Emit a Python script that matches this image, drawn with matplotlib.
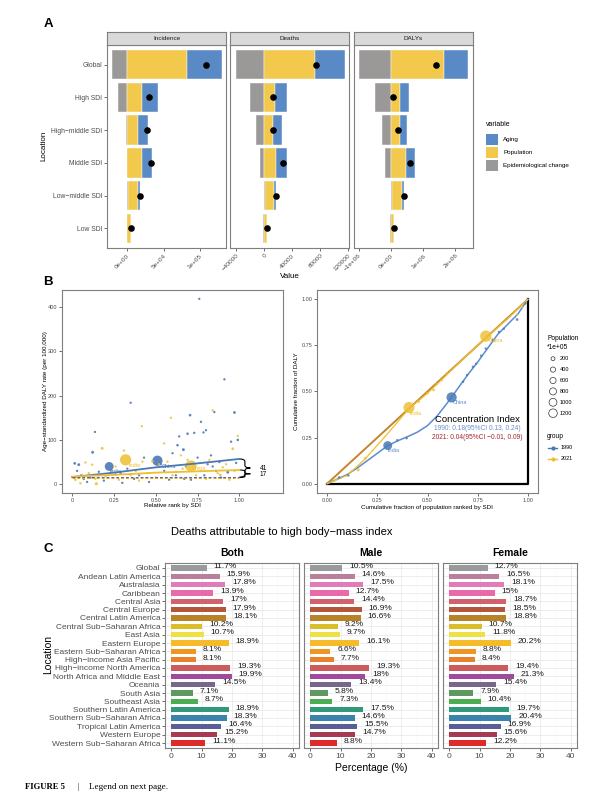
import matplotlib
matplotlib.use("Agg")
import matplotlib.pyplot as plt
from matplotlib.path import Path
from matplotlib.patches import PathPatch, Rectangle

plt.rcParams['font.family'] = ['Liberation Sans', 'DejaVu Sans']

# ---------------- data ----------------
# panel A : decomposition of change (epidemiological change, population, aging)
a_locs = ["Global", "High SDI", "High−middle SDI", "Middle SDI", "Low−middle SDI", "Low SDI"]
a_measures = ["Incidence", "Deaths", "DALYs"]
inc_epi = [-21e3, -12.5e3, -1.8e3, -0.6e3, 1.2e3, -0.2e3]
inc_pop = [83e3, 20.8e3, 15.3e3, 20e3, 13.5e3, 4.6e3]
inc_aging = [47e3, 22e3, 13.5e3, 14e3, 2.8e3, 0.3e3]
dth_epi = [-40e3, -20.4e3, -11.9e3, -6.2e3, 1.0e3, -0.9e3]
dth_pop = [72.4e3, 15.7e3, 12.9e3, 17.6e3, 13.8e3, 4.6e3]
dth_aging = [42.3e3, 17.6e3, 12.3e3, 15.7e3, 2.8e3, 0.2e3]
daly_epi = [-0.97e6, -0.49e6, -0.28e6, -0.17e6, 0.04e6, -0.01e6]
daly_pop = [1.64e6, 0.29e6, 0.29e6, 0.47e6, 0.31e6, 0.10e6]
daly_aging = [0.74e6, 0.27e6, 0.22e6, 0.29e6, 0.07e6, 0.01e6]
inc_ticks = [0, 5e4, 1e5]
inc_ticklabels = ["0e+00", "5e+04", "1e+05"]
dth_ticks = [-40000, 0, 40000, 80000, 120000]
dth_ticklabels = ["−40000", "0", "40000", "80000", "120000"]
daly_ticks = [-1e6, 0, 1e6, 2e6]
daly_ticklabels = ["−1e+06", "0e+00", "1e+06", "2e+06"]

# panel B left : age-standardized DALY rate vs relative SDI rank
b90_x = [0.016, 0.04, 0.055, 0.07, 0.09, 0.123, 0.137, 0.16, 0.19, 0.222, 0.26, 0.30, 0.33, 0.35,
         0.37, 0.40, 0.43, 0.46, 0.51, 0.55, 0.58, 0.60, 0.62, 0.63, 0.64, 0.665, 0.68, 0.69, 0.705,
         0.71, 0.73, 0.75, 0.76, 0.77, 0.785, 0.80, 0.81, 0.83, 0.85, 0.86, 0.88, 0.91, 0.93, 0.95,
         0.97, 0.98, 0.99, 0.03, 0.11, 0.29, 0.53, 0.67, 0.79, 0.84, 0.89]
b90_y = [47, 44, 20, 12, 5, 72, 118, 28, 8, 40, 22, 3, 35, 184,
         12, 20, 60, 5, 53, 30, 10, 70, 20, 88, 108, 78, 40, 114, 156,
         10, 116, 60, 419, 141, 117, 122, 45, 65, 163, 30, 50, 237, 27, 96,
         162, 48, 100, 30, 15, 25, 45, 12, 20, 40, 15]
b90_pop = [30, 40, 10, 8, 6, 40, 5, 8, 6, 850, 10, 8, 6, 5,
           10, 6, 4, 6, 1150, 8, 6, 5, 6, 20, 6, 40, 8, 20, 25,
           10, 8, 6, 5, 8, 6, 8, 8, 6, 5, 10, 6, 8, 40, 10,
           35, 8, 20, 8, 10, 8, 6, 10, 8, 6, 10]
b21_x = [0.02, 0.05, 0.08, 0.10, 0.12, 0.145, 0.18, 0.20, 0.24, 0.28, 0.31, 0.32, 0.35, 0.40,
         0.417, 0.42, 0.45, 0.48, 0.50, 0.52, 0.55, 0.57, 0.59, 0.62, 0.65, 0.66, 0.71, 0.74, 0.77,
         0.80, 0.82, 0.84, 0.87, 0.885, 0.90, 0.94, 0.96, 0.97, 0.99, 0.06, 0.14, 0.26, 0.38,
         0.6, 0.69, 0.92]
b21_y = [10, 2, 49, 25, 44, 1, 81, 18, 30, 10, 76, 55, 20, 8,
         131, 51, 25, 52, 15, 45, 92, 51, 150, 28, 65, 35, 41, 20, 30,
         12, 55, 167, 25, 21, 38, 10, 80, 30, 109, 20, 12, 40, 30, 20, 55, 45]
b21_pop = [20, 15, 10, 8, 10, 60, 40, 8, 6, 8, 6, 1400, 10, 6,
           5, 10, 6, 30, 8, 8, 10, 10, 6, 8, 6, 10, 1420, 8, 10,
           8, 6, 6, 10, 40, 8, 10, 30, 10, 8, 10, 8, 6, 8, 10, 6, 8]
fit_x = [0, 0.25, 0.5, 0.75, 1.0]
fit90_y = [16, 26, 38, 47, 57]
fit21_y = [17, 21, 26, 29, 32]
base90, base21 = 16, 15
gap90, gap21 = 41, 17

# panel B right : concentration curves
c90_x = [0.06, 0.106, 0.302, 0.35, 0.396, 0.62, 0.677, 0.697, 0.726, 0.742, 0.767, 0.79, 0.824,
         0.856, 0.88, 0.946, 0.987]
c90_y = [0.034, 0.045, 0.207, 0.236, 0.247, 0.468, 0.553, 0.589, 0.634, 0.65, 0.694, 0.733, 0.778,
         0.823, 0.84, 0.89, 0.977]
c90_pop = [20, 15, 850, 10, 15, 1150, 15, 10, 12, 10, 10, 10, 8, 8, 8, 30, 8]
c21_x = [0.04, 0.12, 0.155, 0.19, 0.408, 0.457, 0.498, 0.53, 0.546, 0.571, 0.595, 0.79, 0.832,
         0.865, 0.946, 0.97]
c21_y = [0.02, 0.067, 0.076, 0.139, 0.413, 0.445, 0.49, 0.508, 0.539, 0.562, 0.598, 0.80, 0.773,
         0.863, 0.917, 0.958]
c21_pop = [20, 15, 60, 40, 1400, 20, 15, 30, 15, 12, 10, 1420, 10, 10, 10, 8]
curve90_x = [0, 0.05, 0.1, 0.15, 0.2, 0.25, 0.3, 0.35, 0.4, 0.45, 0.5, 0.55, 0.6, 0.65, 0.7,
             0.75, 0.8, 0.85, 0.9, 0.95, 1.0]
curve90_y = [0, 0.025, 0.05, 0.085, 0.125, 0.165, 0.205, 0.232, 0.255, 0.28, 0.315, 0.37, 0.44,
             0.515, 0.59, 0.66, 0.735, 0.81, 0.865, 0.92, 1.0]
curve21_x = [0, 0.1, 0.19, 0.3, 0.41, 0.5, 0.6, 0.7, 0.8, 0.9, 1.0]
curve21_y = [0, 0.045, 0.135, 0.27, 0.41, 0.49, 0.595, 0.7, 0.8, 0.895, 1.0]
pop_legend = [200, 400, 600, 800, 1000, 1200]

# panel C : deaths attributable to high BMI (%)
c_locs = ["Global", "Andean Latin America", "Australasia", "Caribbean", "Central Asia",
          "Central Europe", "Central Latin America", "Central Sub−Saharan Africa", "East Asia",
          "Eastern Europe", "Eastern Sub−Saharan Africa", "High−income Asia Pacific",
          "High−income North America", "North Africa and Middle East", "Oceania", "South Asia",
          "Southeast Asia", "Southern Latin America", "Southern Sub−Saharan Africa",
          "Tropical Latin America", "Western Europe", "Western Sub−Saharan Africa"]
both_pct = [11.7, 15.9, 17.8, 13.9, 17, 17.9, 18.1, 10.2, 10.7, 18.9, 8.1, 8.1, 19.3, 19.9,
            14.5, 7.1, 8.7, 18.9, 18.3, 16.4, 15.2, 11.1]
male_pct = [10.5, 14.6, 17.5, 12.7, 14.4, 16.9, 16.6, 9.2, 9.7, 16.1, 6.6, 7.7, 19.3, 18,
            13.4, 5.8, 7.3, 17.5, 14.6, 15.5, 14.7, 8.8]
female_pct = [12.7, 16.5, 18.1, 15, 18.7, 18.5, 18.8, 10.7, 11.8, 20.2, 8.8, 8.4, 19.4, 21.3,
              15.4, 7.9, 10.4, 19.7, 20.4, 16.9, 15.6, 12.2]
c_colors = ["#9a9a9a", "#b8809a", "#e07cb8", "#e96aa8", "#d0626e", "#b3563a", "#b88228",
            "#d9bd2a", "#efe043", "#f5bb2b", "#ef9522", "#e8812b", "#cc5b5b", "#a04a9e",
            "#786788", "#5f9960", "#4cae52", "#2f9a7b", "#3984a8", "#5a5e96", "#a63a52",
            "#dd2a2a"]

# ---------------- figure ----------------
W, H = 615, 801
fig = plt.figure(figsize=(6.15, 8.01), dpi=100)


def box(l, t, r, b):
    return [l / W, 1 - b / H, (r - l) / W, (b - t) / H]


def frame(ax, color="#7f7f7f", lw=0.8):
    for s in ax.spines.values():
        s.set_color(color)
        s.set_linewidth(lw)


def psize(p):
    return p * 0.045 + 2.5


TXT = "#4d4d4d"
col_aging, col_pop, col_epi = "#5a8ac6", "#f2c94c", "#9b9898"
blue, yellow = "#4a78b6", "#eebf30"

# ---- panel A ----
a_xlim = [(-27.8e3, 136e3), (-48.5e3, 121e3), (-1.14e6, 2.55e6)]
a_data = [(inc_epi, inc_pop, inc_aging), (dth_epi, dth_pop, dth_aging),
          (daly_epi, daly_pop, daly_aging)]
a_ticks = [(inc_ticks, inc_ticklabels), (dth_ticks, dth_ticklabels), (daly_ticks, daly_ticklabels)]
a_left = [107, 230, 354]
for k, meas in enumerate(a_measures):
    l = a_left[k]
    ax = fig.add_axes(box(l, 45, l + 119, 248))
    st = fig.add_axes(box(l, 32, l + 119, 45))
    st.set_facecolor("#d9d9d9")
    st.set_xticks([]); st.set_yticks([])
    frame(st, "#7f7f7f", 0.8)
    st.text(0.5, 0.5, meas, ha="center", va="center", fontsize=4.6, color="#1a1a1a",
            transform=st.transAxes)
    epi, pop, aging = a_data[k]
    for i in range(len(a_locs)):
        pos, neg = 0.0, 0.0
        for v, c in [(epi[i], col_epi), (pop[i], col_pop), (aging[i], col_aging)]:
            if v >= 0:
                ax.barh(i, v, left=pos, height=0.9, color=c, edgecolor="white", linewidth=0.3)
                pos += v
            else:
                ax.barh(i, v, left=neg, height=0.9, color=c, edgecolor="white", linewidth=0.3)
                neg += v
        ax.scatter(epi[i] + pop[i] + aging[i], i, s=14, color="black", zorder=5)
    ax.set_xlim(*a_xlim[k])
    ax.set_ylim(5.6, -0.6)
    ax.set_yticks(range(len(a_locs)))
    ax.set_xticks(a_ticks[k][0])
    ax.set_xticklabels(a_ticks[k][1], fontsize=4.6, color=TXT, rotation=45, ha="right",
                       rotation_mode="anchor")
    ax.tick_params(length=2, width=0.5, color="#333333", pad=1.5)
    if k == 0:
        ax.set_yticklabels(a_locs, fontsize=4.9, color=TXT)
    else:
        ax.set_yticklabels([])
        ax.tick_params(axis="y", length=0)
    frame(ax)

# ---- panel B left ----
axl = fig.add_axes(box(62, 290, 283, 493))
axl.scatter(b90_x, b90_y, s=[psize(p) for p in b90_pop], color=blue, alpha=0.9,
            linewidths=0, zorder=3)
axl.scatter(b21_x, b21_y, s=[psize(p) for p in b21_pop], color=yellow, alpha=0.85,
            linewidths=0, zorder=3)
axl.plot(fit_x, fit90_y, color=blue, lw=1.3, zorder=4)
axl.plot(fit_x, fit21_y, color=yellow, lw=1.3, zorder=4)
axl.plot([0, 1], [base90, base90], color="#5b5ea6", lw=0.7, ls=(0, (3, 2)), zorder=4)
axl.plot([0, 1], [base21, base21], color="#d9a92a", lw=0.7, ls=(0, (3, 2)), zorder=4)


def brace(ax, x0, y0, y1, w, color="black"):
    ym = (y0 + y1) / 2
    d = (y1 - y0) * 0.15
    xm = x0 + w / 2
    verts = [(x0, y1), (xm, y1), (xm, y1 - d), (xm, ym + d), (xm, ym), (x0 + w, ym),
             (xm, ym), (xm, ym - d), (xm, y0 + d), (xm, y0), (x0, y0)]
    codes = [Path.MOVETO, Path.CURVE3, Path.CURVE3, Path.LINETO, Path.CURVE3, Path.CURVE3,
             Path.CURVE3, Path.CURVE3, Path.LINETO, Path.CURVE3, Path.CURVE3]
    ax.add_patch(PathPatch(Path(verts, codes), fill=False, edgecolor=color, lw=0.8))


brace(axl, 1.0, base90, fit90_y[-1], 0.065)
brace(axl, 1.0, base21, fit21_y[-1], 0.065)
axl.text(1.12, (base90 + fit90_y[-1]) / 2, str(gap90), fontsize=4.8, va="center", ha="left")
axl.text(1.12, (base21 + fit21_y[-1]) / 2 - 2, str(gap21), fontsize=4.8, va="center", ha="left")
axl.text(0.26, 29, "India", color=blue, fontsize=4, ha="center", va="center", zorder=5)
axl.text(0.58, 41, "China", color=blue, fontsize=4, ha="center", va="center", zorder=5)
axl.text(0.375, 42, "India", color=yellow, fontsize=4, ha="center", va="center", zorder=5)
axl.text(0.76, 36, "China", color=yellow, fontsize=4, ha="center", va="center", zorder=5)
axl.set_xlim(-0.06, 1.26)
axl.set_ylim(-20, 439)
axl.set_xticks([0, 0.25, 0.5, 0.75, 1.0])
axl.set_xticklabels(["0", "0.25", "0.50", "0.75", "1.00"], fontsize=4, color=TXT)
axl.set_yticks([0, 100, 200, 300, 400])
axl.set_yticklabels(["0", "100", "200", "300", "400"], fontsize=4, color=TXT)
axl.tick_params(length=2, width=0.5, color="#333333", pad=1.5)
frame(axl)

# ---- panel B right ----
axr = fig.add_axes(box(317, 290, 538, 493))
axr.plot([0, 1], [0, 1], color="#c4852f", lw=1.4, zorder=2)
axr.plot([0, 1, 1], [0, 0, 1], color="black", lw=1.6, zorder=2)
axr.plot(curve90_x, curve90_y, color="#5b8bd0", lw=1.1, zorder=3)
axr.plot(curve21_x, curve21_y, color=yellow, lw=0.9, zorder=3)
axr.scatter(c90_x, c90_y, s=[psize(p) for p in c90_pop], color=blue, alpha=0.85,
            linewidths=0, zorder=4)
axr.scatter(c21_x, c21_y, s=[psize(p) for p in c21_pop], color=yellow, alpha=0.8,
            linewidths=0, zorder=4)
axr.text(0.33, 0.18, "India", color="#5b8bd0", fontsize=4, ha="center", va="center")
axr.text(0.66, 0.44, "China", color="#5b8bd0", fontsize=4, ha="center", va="center")
axr.text(0.44, 0.38, "India", color=yellow, fontsize=4, ha="center", va="center")
axr.text(0.84, 0.775, "China", color=yellow, fontsize=4, ha="center", va="center")
axr.text(0.75, 0.347, "Concentration Index", fontsize=6.8, ha="center", va="center")
axr.text(0.75, 0.30, "1990: 0.18(95%CI 0.13, 0.24)", fontsize=4.8, color="#6a8fd0",
         ha="center", va="center")
axr.text(0.75, 0.25, "2021: 0.04(95%CI −0.01, 0.09)", fontsize=4.8, color="#a3262b",
         ha="center", va="center")
axr.set_xlim(-0.05, 1.05)
axr.set_ylim(-0.05, 1.05)
tk = [0, 0.25, 0.5, 0.75, 1.0]
tkl = ["0.00", "0.25", "0.50", "0.75", "1.00"]
axr.set_xticks(tk); axr.set_xticklabels(tkl, fontsize=4, color=TXT)
axr.set_yticks(tk); axr.set_yticklabels(tkl, fontsize=4, color=TXT)
axr.tick_params(length=2, width=0.5, color="#333333", pad=1.5)
frame(axr)

# ---- panel C ----
c_left = [(165, 299), (304, 438), (443, 577)]
c_titles = ["Both", "Male", "Female"]
c_vals = [both_pct, male_pct, female_pct]
for k in range(3):
    l, r = c_left[k]
    ax = fig.add_axes(box(l, 563, r, 748))
    ax.set_axisbelow(True)
    vals = c_vals[k]
    ax.barh(range(len(c_locs)), vals, height=0.65, color=c_colors)
    for i, v in enumerate(vals):
        ax.text(v + 2.3, i - 0.2, f"{v:g}%", fontsize=6, ha="left", va="center",
                color="#1a1a1a")
    ax.set_xlim(-2, 42)
    ax.set_ylim(21.6, -0.6)
    ax.set_xticks([0, 10, 20, 30, 40])
    ax.set_xticks([5, 15, 25, 35], minor=True)
    ax.set_xticklabels(["0", "10", "20", "30", "40"], fontsize=6, color=TXT)
    ax.set_yticks(range(len(c_locs)))
    ax.grid(True, which="major", color="#e6e6e6", lw=0.5)
    ax.grid(True, which="minor", axis="x", color="#f2f2f2", lw=0.3)
    ax.tick_params(which="major", length=2, width=0.5, color="#333333", pad=1.5)
    ax.tick_params(which="minor", length=0)
    if k == 0:
        ax.set_yticklabels(c_locs, fontsize=6, color=TXT)
    else:
        ax.set_yticklabels([])
        ax.tick_params(axis="y", length=0)
    frame(ax)
    fig.text((l + r) / 2 / W, 1 - 553 / H, c_titles[k], fontsize=7.5, fontweight="bold",
             ha="center", va="center")

# ---- overlay texts and legends (pixel coordinates) ----
ov = fig.add_axes([0, 0, 1, 1], zorder=10)
ov.set_xlim(0, W); ov.set_ylim(H, 0); ov.axis("off")
for lab, (x, y) in {"A": (48, 24), "B": (48, 282), "C": (48, 549)}.items():
    ov.text(x, y, lab, fontsize=9.5, fontweight="bold", ha="center", va="center")
ov.text(44, 146, "Location", fontsize=5.8, rotation=90, ha="center", va="center")
ov.text(290, 277, "Value", fontsize=5.8, ha="center", va="center")

ov.text(486, 125, "variable", fontsize=5, ha="left", va="center")
for j, (lab, c) in enumerate([("Aging", col_aging), ("Population", col_pop),
                              ("Epidemiological change", col_epi)]):
    yy = 139 + j * 13.3
    ov.add_patch(Rectangle((486, yy - 5.5), 12, 11, color=c, lw=0))
    ov.text(503, yy, lab, fontsize=4.5, ha="left", va="center")

ov.text(45, 391, "Age−standardized DALY rate (per 100,000)", fontsize=4.5, rotation=90,
        ha="center", va="center")
ov.text(172, 506, "Relative rank by SDI", fontsize=4.5, ha="center", va="center")
ov.text(296, 391, "Cumulative fraction of DALY", fontsize=4.5, rotation=90,
        ha="center", va="center")
ov.text(427, 507, "Cumulative fraction of population ranked by SDI", fontsize=4.5,
        ha="center", va="center")

ov.text(547, 339, "Population", fontsize=4.8, ha="left", va="center")
ov.text(547, 347.5, "*1e+05", fontsize=4.8, ha="left", va="center")
for j, p in enumerate(pop_legend):
    yy = 358.7 + j * 10.9
    ov.scatter(553, yy, s=p * 0.03 + 2, facecolors="none", edgecolors="#333333", linewidths=0.5)
    ov.text(560, yy, str(p), fontsize=4, ha="left", va="center")
ov.text(547, 436, "group", fontsize=4.8, ha="left", va="center")
for j, (lab, c) in enumerate([("1990", blue), ("2021", yellow)]):
    yy = 447.5 + j * 11.5
    ov.plot([548, 557], [yy, yy], color=c, lw=1)
    ov.scatter(552.5, yy, s=4, color=c)
    ov.text(561, yy, lab, fontsize=4, ha="left", va="center")

ov.text(282, 532, "Deaths attributable to high body−mass index", fontsize=8,
        ha="center", va="center")
ov.text(48, 655, "Location", fontsize=7.5, rotation=90, ha="center", va="center")
ov.text(371, 768, "Percentage (%)", fontsize=7.5, ha="center", va="center")

ov.text(25, 787, "FIGURE 5", fontsize=6.2, fontweight="bold", family="Liberation Serif",
        ha="left", va="center")
ov.text(78, 787, "|", fontsize=6.2, family="Liberation Serif", ha="center", va="center")
ov.text(89, 787, "Legend on next page.", fontsize=6.6, family="Liberation Serif",
        ha="left", va="center")

fig.savefig("out.png", dpi=100)
